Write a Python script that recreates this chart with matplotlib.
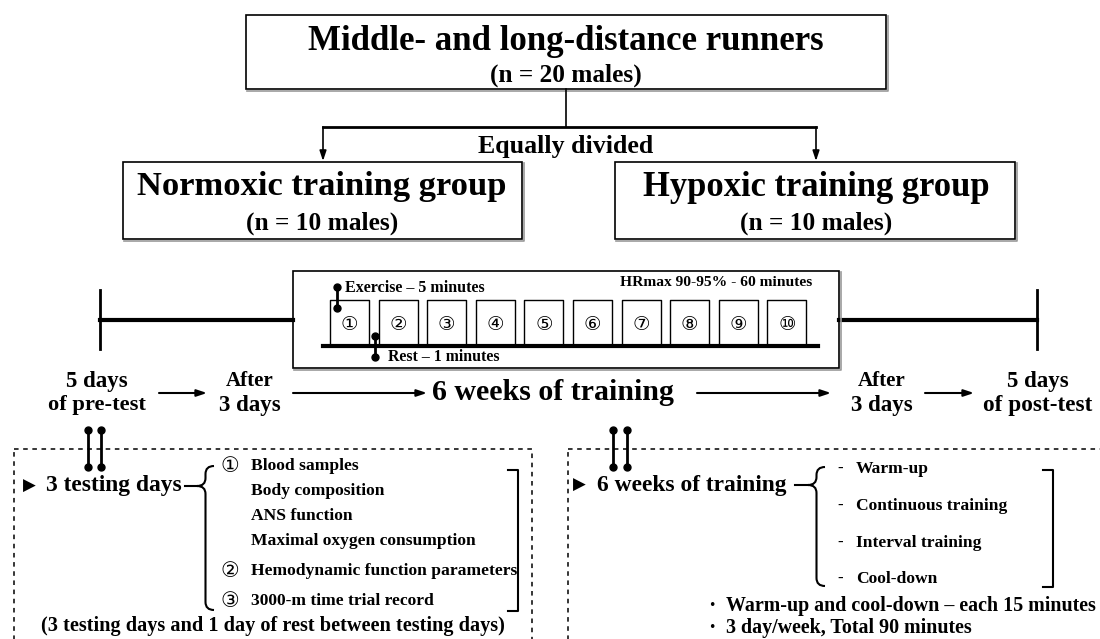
import matplotlib
matplotlib.use("Agg")
import matplotlib.pyplot as plt
from matplotlib.patches import Rectangle, PathPatch
from matplotlib.path import Path

# Text content of the flow diagram
title = "Middle- and long-distance runners"
title_n = "(n = 20 males)"
split_label = "Equally divided"
groups = ["Normoxic training group", "Hypoxic training group"]
group_n = ["(n = 10 males)", "(n = 10 males)"]

bout_labels = ["①", "②", "③", "④", "⑤", "⑥", "⑦", "⑧", "⑨", "⑩"]
intensity = "HRmax 90-95% - 60 minutes"
exercise_lbl = "Exercise – 5 minutes"
rest_lbl = "Rest – 1 minutes"

timeline = [("5 days", "of pre-test"), ("After", "3 days"),
            ("6 weeks of training", None), ("After", "3 days"),
            ("5 days", "of post-test")]

test_head = "3 testing days"
test_nums = ["①", "", "", "", "②", "③"]
test_items = ["Blood samples", "Body composition", "ANS function",
              "Maximal oxygen consumption", "Hemodynamic function parameters",
              "3000-m time trial record"]
test_note = "(3 testing days and 1 day of rest between testing days)"

train_head = "6 weeks of training"
train_items = ["Warm-up", "Continuous training", "Interval training", "Cool-down"]
train_notes = ["Warm-up and cool-down – each 15 minutes",
               "3 day/week, Total 90 minutes"]

FONT = ["Liberation Serif", "DejaVu Sans"]
SYM = ["DejaVu Sans"]

fig = plt.figure(figsize=(11, 6.39), dpi=100)
ax = fig.add_axes([0, 0, 1, 1])
ax.set_xlim(0, 1100)
ax.set_ylim(639, 0)
ax.axis("off")
r = fig.canvas.get_renderer()


def put(x, y, s, w=None, size=12, ha="center", family=FONT, weight="bold"):
    t = ax.text(x, y, s, ha=ha, va="center", fontsize=size,
                family=family, fontweight=weight)
    if w:
        bb = t.get_window_extent(renderer=r)
        t.set_fontsize(size * w / bb.width)
    return t


def box(x0, y0, x1, y1, lw=1.2, ls="-", shadow=False):
    if shadow:
        ax.plot([x0 + 1, x1 + 1.5, x1 + 1.5], [y1 + 1.5, y1 + 1.5, y0 + 1],
                color="0.6", lw=1.2)
    ax.add_patch(Rectangle((x0, y0), x1 - x0, y1 - y0, fill=False,
                           lw=lw, ls=ls, ec="black"))


def arrow(x0, y0, x1, y1, lw=1.5):
    ax.annotate("", xy=(x1, y1), xytext=(x0, y0),
                arrowprops=dict(arrowstyle="-|>,head_length=0.6,head_width=0.2",
                                lw=lw, color="black", shrinkA=0, shrinkB=0))


def dumbbell(x, y0, y1):
    ax.plot([x, x], [y0, y1], "-o", color="black", lw=2, ms=5)


def brace(xt, xr, y0, yt, y1, rr=8):
    xm = (xt + xr) / 2
    verts = [(xr, y0), (xm, y0), (xm, y0 + rr), (xm, yt - rr), (xm, yt), (xt, yt),
             (xm, yt), (xm, yt + rr), (xm, y1 - rr), (xm, y1), (xr, y1)]
    codes = [Path.MOVETO, Path.CURVE3, Path.CURVE3, Path.LINETO, Path.CURVE3,
             Path.CURVE3, Path.CURVE3, Path.CURVE3, Path.LINETO, Path.CURVE3,
             Path.CURVE3]
    ax.add_patch(PathPatch(Path(verts, codes), fill=False, lw=1.5))


def bracket(x, y0, y1, d=10):
    ax.plot([x - d, x, x, x - d], [y0, y0, y1, y1], color="black", lw=1.5)


# ---- top: participants and groups ----
box(246, 15, 886, 89, shadow=True)
put(566, 42, title, w=518, size=24)
put(566, 75, title_n, w=152, size=14)
ax.plot([566, 566], [89, 127], color="black", lw=1.2)
ax.plot([323, 816], [127, 127], color="black", lw=2)
arrow(323, 127, 323, 161, lw=1.2)
arrow(816, 127, 816, 161, lw=1.2)
put(566, 146, split_label, w=176, size=14)

for cx, x0, x1, g, n, gw in zip([322, 816], [123, 615], [522, 1015], groups,
                                group_n, [369, 347]):
    box(x0, 162, x1, 239, shadow=True)
    put(cx, 187, g, w=gw, size=24)
    put(cx, 223, n, w=153, size=14)

# ---- timeline with training session box ----
ax.plot([100, 100], [290, 349], color="black", lw=2)
ax.plot([1037, 1037], [290, 349], color="black", lw=2)
ax.plot([100, 293], [320, 320], color="black", lw=3)
ax.plot([839, 1037], [320, 320], color="black", lw=3)
box(293, 271, 839, 368, lw=1.2, shadow=True)
put(812, 283, intensity, w=191, size=11, ha="right")
ax.plot([323, 818], [346, 346], color="black", lw=3)
for i, lbl in enumerate(bout_labels):
    bx = 330 + i * 48.6
    ax.plot([bx, bx, bx + 39, bx + 39], [346, 300, 300, 346], color="black", lw=1)
    put(bx + 19.5, 324, lbl, size=14, family=SYM, weight="normal")
dumbbell(337, 287, 308)
put(345, 288, exercise_lbl, w=140, size=11, ha="left")
dumbbell(375, 336, 357)
put(388, 357, rest_lbl, w=112, size=11, ha="left")

tl_x = [97, 250, 553, 882, 1038]
w1 = [62, 48, 242, 48, 62]
w2 = [98, 62, None, 62, 110]
for x, (a, b), wa, wb in zip(tl_x, timeline, w1, w2):
    if b is None:
        put(x, 392, a, w=wa, size=20)
    else:
        put(x, 381, a, w=wa, size=14)
        put(x, 405, b, w=wb, size=14)
for x0, x1 in [(159, 207), (293, 427), (697, 831), (925, 974)]:
    arrow(x0, 393, x1, 393)

# ---- bottom left: testing ----
box(14, 449, 532, 680, lw=1.1, ls=(0, (3, 3)))
dumbbell(88, 430, 467)
dumbbell(101, 430, 467)
put(29, 486, "▶", size=12, family=SYM, weight="normal")
put(46, 486, test_head, w=136, size=15, ha="left")
ax.plot([185, 197], [486, 486], color="black", lw=1.5)
brace(197, 214, 466, 486, 610)
item_y = [466, 491, 516, 541, 571, 601]
hs = None
for num, item, y in zip(test_nums, test_items, item_y):
    if num:
        put(230, y, num, size=15, family=SYM, weight="normal")
    t = put(251, y, item, size=13, ha="left")
    if item.startswith("Hemodynamic"):
        hs = t
bb = hs.get_window_extent(renderer=r)
fs = 13 * 264 / bb.width
for t in ax.texts:
    if t.get_text() in test_items:
        t.set_fontsize(fs)
bracket(518, 470, 611)
put(273, 626, test_note, w=461, size=13)

# ---- bottom right: training ----
box(568, 449, 1115, 680, lw=1.1, ls=(0, (3, 3)))
dumbbell(613, 430, 467)
dumbbell(627, 430, 467)
put(579, 485, "▶", size=12, family=SYM, weight="normal")
put(597, 485, train_head, w=190, size=15, ha="left")
ax.plot([795, 808], [485, 485], color="black", lw=1.5)
brace(808, 825, 467, 485, 586)
tr_y = [469, 506, 543, 579]
for item, y in zip(train_items, tr_y):
    put(840, y, "-", size=12)
    put(856, y, item, w=None, size=12, ha="left")
ref = [t for t in ax.texts if t.get_text() == "Continuous training"][0]
fs2 = 12 * 150 / ref.get_window_extent(renderer=r).width
for t in ax.texts:
    if t.get_text() in train_items:
        t.set_fontsize(fs2)
bracket(1053, 470, 587)
note_t = []
for note, y in zip(train_notes, [606, 628]):
    put(712, y, "•", size=9, family=SYM, weight="normal")
    note_t.append(put(726, y, note, size=13, ha="left"))
fs3 = 13 * 368 / note_t[0].get_window_extent(renderer=r).width
for t in note_t:
    t.set_fontsize(fs3)

fig.savefig("out.png", dpi=100, facecolor="white")
